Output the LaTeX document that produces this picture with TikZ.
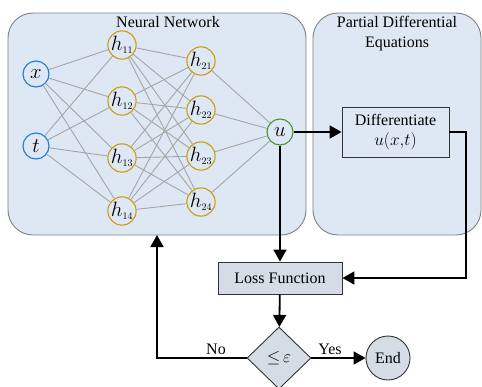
\documentclass[tikz,border=0pt]{standalone}
\usepackage{fontspec}
\setmainfont{Liberation Serif}
\usetikzlibrary{shapes.geometric,arrows.meta}

\definecolor{panelfill}{RGB}{222,232,244}
\definecolor{panelline}{RGB}{128,128,128}
\definecolor{boxfill}{RGB}{214,220,230}
\definecolor{inblue}{RGB}{30,124,212}
\definecolor{hidgold}{RGB}{206,154,10}
\definecolor{outgreen}{RGB}{78,146,48}
\definecolor{wire}{RGB}{165,165,165}

\newcommand{\hsub}[1]{h_{\scriptscriptstyle #1}}

\tikzset{
  panel/.style={draw=panelline, line width=0.9pt, fill=panelfill, rounded corners=25pt},
  neuron/.style={circle, line width=1.1pt, fill=panelfill, minimum size=26pt, inner sep=0pt,
    font=\fontsize{20}{22}\selectfont},
  innode/.style={neuron, draw=inblue},
  hidnode/.style={neuron, draw=hidgold},
  outnode/.style={neuron, draw=outgreen},
  wireline/.style={draw=wire, line width=0.9pt},
  flow/.style={draw=black, line width=1.8pt, -{Triangle[length=12pt,width=13pt]}},
  lbl/.style={font=\fontsize{16}{19}\selectfont, inner sep=0pt},
  procbox/.style={draw=black!80, line width=0.9pt, font=\fontsize{16}{19}\selectfont, align=center},
}

\begin{document}
\begin{tikzpicture}[x=1pt,y=-1pt]
\useasboundingbox (0,0) rectangle (482,386);

% panels
\node[panel, minimum width=298pt, minimum height=222pt] (nn) at (157,124) {};
\node[panel, minimum width=168pt, minimum height=222pt] (pde) at (397,124) {};
\node[lbl] (nntitle) at (168,22) {Neural Network};
\node[lbl, align=center] (pdetitle) at (397,34) {Partial Differential\\[1pt]Equations};

% network nodes
\node[innode] (x) at (36,74) {$x$};
\node[innode] (t) at (36,146) {$t$};
\node[hidnode] (h11) at (122,45) {$\hsub{11}$};
\node[hidnode] (h12) at (122,101) {$\hsub{12}$};
\node[hidnode] (h13) at (122,158) {$\hsub{13}$};
\node[hidnode] (h14) at (122,211) {$\hsub{14}$};
\node[hidnode] (h21) at (201,61) {$\hsub{21}$};
\node[hidnode] (h22) at (201,110) {$\hsub{22}$};
\node[hidnode] (h23) at (201,156) {$\hsub{23}$};
\node[hidnode] (h24) at (201,202) {$\hsub{24}$};
\node[outnode] (u) at (280,132) {$u$};

% weights
\foreach \a in {x,t}
  \foreach \b in {h11,h12,h13,h14}
    \draw[wireline] (\a) -- (\b);
\foreach \a in {h11,h12,h13,h14}
  \foreach \b in {h21,h22,h23,h24}
    \draw[wireline] (\a) -- (\b);
\foreach \a in {h21,h22,h23,h24}
  \draw[wireline] (\a) -- (u);

% process boxes
\node[procbox, fill=panelfill, minimum width=107pt, minimum height=50pt] (diff) at (395.5,132)
  {Differentiate\\[1pt]$u(x{,}t)$};
\node[procbox, fill=boxfill, minimum width=124pt, minimum height=32pt] (loss) at (280,278) {Loss Function};
\node[diamond, draw=black!80, line width=0.9pt, fill=boxfill, minimum width=64pt, minimum height=62pt,
  inner sep=0pt, font=\fontsize{19}{21}\selectfont] (dec) at (279,358) {${\leq}\,\varepsilon$};
\node[circle, draw=black!80, line width=0.9pt, fill=boxfill, minimum size=44pt, inner sep=0pt,
  font=\fontsize{16}{19}\selectfont] (end) at (388,358) {End};

% flow
\draw[flow] (u) -- (diff);
\draw[flow] (u) -- (loss);
\coordinate (rturn) at (466,132);
\draw[flow] (diff.east) -- (rturn) |- (loss.east);
\draw[flow] (loss) -- (dec);
\draw[flow] (dec) -- (end);
\coordinate (nback) at (157,235);
\draw[flow] (dec.west) -| (nback);
\node[lbl] (nolbl) at (216,349) {No};
\node[lbl] (yeslbl) at (330,349) {Yes};
\end{tikzpicture}
\end{document}
